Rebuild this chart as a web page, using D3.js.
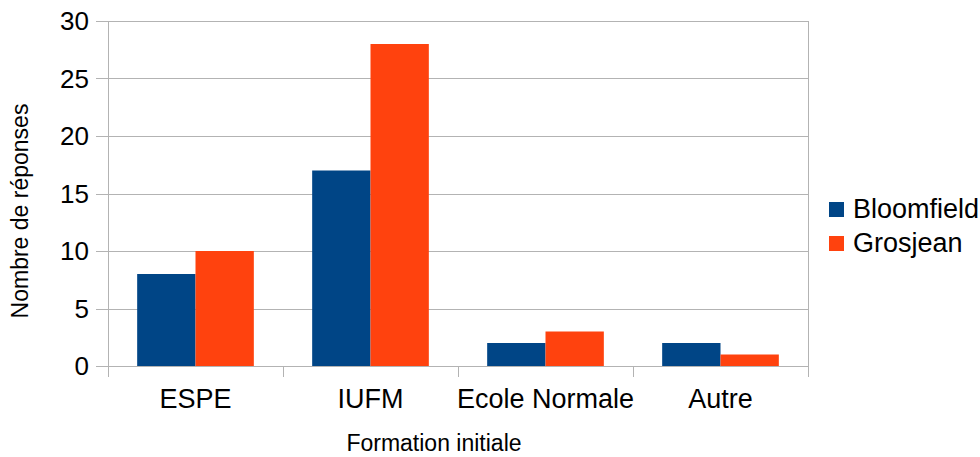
<!DOCTYPE html>
<html>
<head>
<meta charset="utf-8">
<script src="https://cdn.jsdelivr.net/npm/d3@7"></script>
<style>
  body { margin: 0; background: #fff; }
  text { font-family: "Liberation Sans", Arial, sans-serif; fill: #000; }
</style>
</head>
<body>
<div id="chart"></div>
<script>
// Data
const categories = ["ESPE", "IUFM", "Ecole Normale", "Autre"];
const seriesNames = ["Bloomfield", "Grosjean"];
const bloomfield = [8, 17, 2, 2];
const grosjean = [10, 28, 3, 1];
const yTicks = [0, 5, 10, 15, 20, 25, 30];
const colors = ["#004586", "#ff420e"];

const width = 980, height = 457;
const margin = { left: 108, right: 172, top: 21, bottom: 91 };

const svg = d3.select("#chart").append("svg")
  .attr("width", width)
  .attr("height", height);

const x0 = d3.scaleBand()
  .domain(categories)
  .range([margin.left, width - margin.right])
  .padding(0);

// bars fill the middle two thirds of each category
const x1 = d3.scaleBand()
  .domain(seriesNames)
  .range([0, x0.bandwidth()])
  .paddingOuter(0.5)
  .paddingInner(0);

const y = d3.scaleLinear()
  .domain([0, 30])
  .range([height - margin.bottom, margin.top]);

// gridlines + y tick labels
const grid = svg.append("g");
grid.selectAll("line")
  .data(yTicks)
  .enter()
  .append("line")
  .attr("x1", margin.left - 12)
  .attr("x2", width - margin.right)
  .attr("y1", d => Math.round(y(d)) + 0.5)
  .attr("y2", d => Math.round(y(d)) + 0.5)
  .attr("stroke", "#b3b3b3")
  .attr("stroke-width", 1);

grid.selectAll("text")
  .data(yTicks)
  .enter()
  .append("text")
  .attr("x", 89)
  .attr("y", d => y(d) + 9)
  .attr("text-anchor", "end")
  .style("font-size", "26px")
  .text(d => d);

// vertical axis lines + category ticks
const tickXs = d3.range(categories.length + 1).map(i => margin.left + i * x0.bandwidth());
svg.append("g").selectAll("line")
  .data(tickXs)
  .enter()
  .append("line")
  .attr("x1", d => Math.round(d) + 0.5)
  .attr("x2", d => Math.round(d) + 0.5)
  .attr("y1", (d, i) => (i === 0 || i === categories.length) ? margin.top : y(0))
  .attr("y2", y(0) + 11)
  .attr("stroke", "#b3b3b3")
  .attr("stroke-width", 1);

// bars
const groups = svg.append("g")
  .selectAll("g")
  .data(categories)
  .enter()
  .append("g")
  .attr("transform", d => "translate(" + x0(d) + ",0)");

groups.selectAll("rect")
  .data((d, i) => [
    { s: seriesNames[0], v: bloomfield[i], c: colors[0] },
    { s: seriesNames[1], v: grosjean[i], c: colors[1] }
  ])
  .enter()
  .append("rect")
  .attr("x", d => x1(d.s))
  .attr("width", x1.bandwidth())
  .attr("y", d => y(d.v))
  .attr("height", d => y(0) - y(d.v))
  .attr("fill", d => d.c);

// x labels
svg.append("g").selectAll("text")
  .data(categories)
  .enter()
  .append("text")
  .attr("x", d => x0(d) + x0.bandwidth() / 2)
  .attr("y", 408)
  .attr("text-anchor", "middle")
  .style("font-size", "27px")
  .text(d => d);

// axis titles
svg.append("text")
  .attr("x", 434)
  .attr("y", 451)
  .attr("text-anchor", "middle")
  .style("font-size", "23px")
  .text("Formation initiale");

svg.append("text")
  .attr("transform", "translate(28,211) rotate(-90)")
  .attr("text-anchor", "middle")
  .style("font-size", "23px")
  .text("Nombre de réponses");

// legend
const legend = svg.append("g")
  .selectAll("g")
  .data(seriesNames)
  .enter()
  .append("g")
  .attr("transform", (d, i) => "translate(829," + (202 + i * 34) + ")");

legend.append("rect")
  .attr("width", 15)
  .attr("height", 15)
  .attr("fill", (d, i) => colors[i]);

legend.append("text")
  .attr("x", 24)
  .attr("y", 16)
  .style("font-size", "27px")
  .text(d => d);
</script>
</body>
</html>
